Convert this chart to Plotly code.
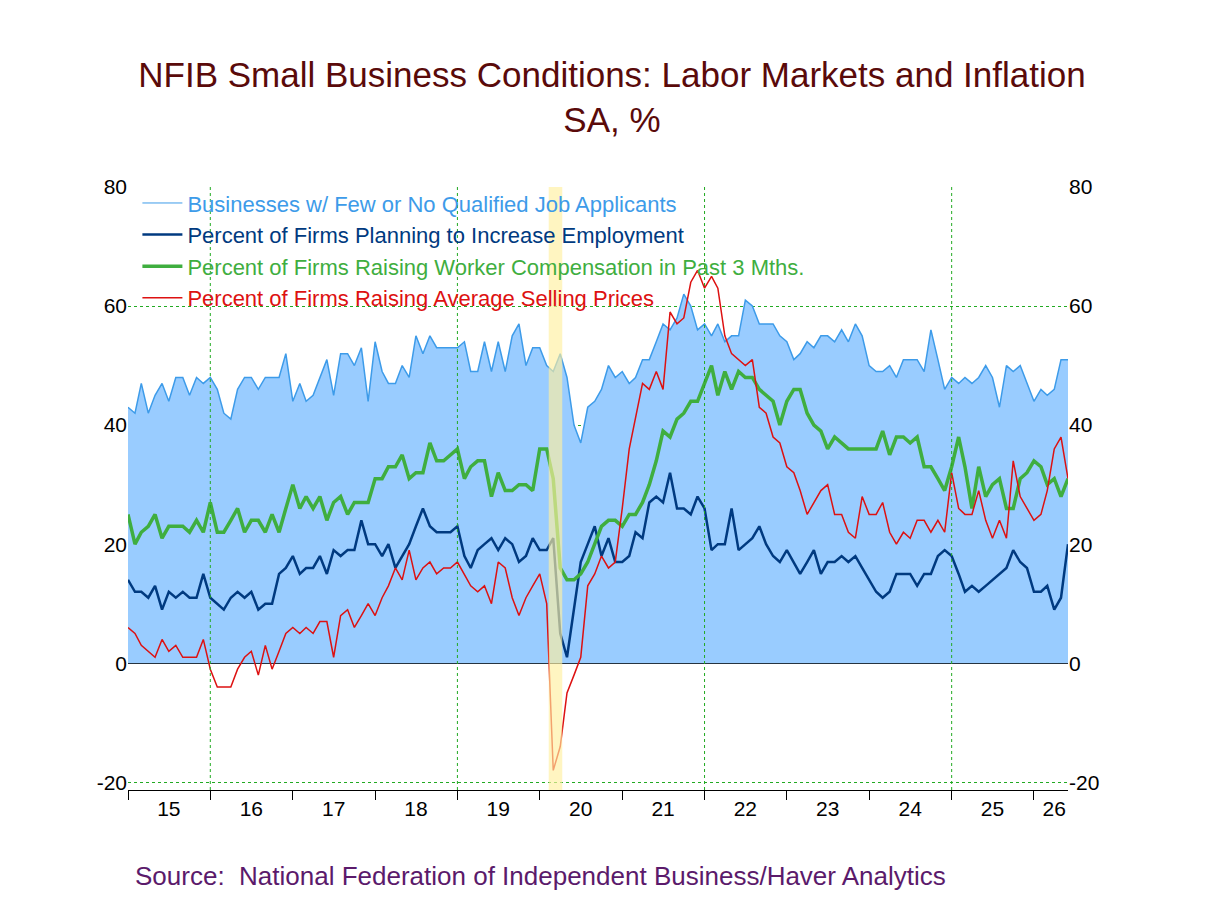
import pandas as pd
import plotly.graph_objects as go

# monthly values, Jan 2015 - Jun 2026
applicants = [43, 42, 47, 42, 45, 47, 44, 48, 48, 45, 48, 47,
              48, 46, 42, 41, 46, 48, 48, 46, 48, 48, 48, 52,
              44, 47, 44, 45, 48, 51, 45, 52, 52, 50, 53, 44,
              54, 49, 47, 47, 50, 48, 55, 52, 55, 53, 53, 53,
              53, 54, 49, 49, 54, 49, 54, 49, 55, 57, 50, 53,
              53, 50, 49, 52, 48, 40, 37, 43, 44, 46, 50, 48,
              49, 47, 48, 51, 51, 54, 57, 56, 58, 62, 60, 56,
              57, 55, 57, 54, 55, 55, 61, 60, 57, 57, 57, 55,
              54, 51, 52, 54, 53, 55, 55, 54, 56, 54, 57, 55,
              50, 49, 49, 50, 48, 51, 51, 51, 49, 56, 51, 46,
              48, 47, 48, 47, 48, 50, 48, 43, 50, 49, 50, 47,
              44, 46, 45, 46, 51, 51]
employment = [14, 12, 12, 11, 13, 9, 12, 11, 12, 11, 11, 15,
              11, 10, 9, 11, 12, 11, 12, 9, 10, 10, 15, 16,
              18, 15, 16, 16, 18, 15, 19, 18, 19, 19, 24, 20,
              20, 18, 20, 16, 18, 20, 23, 26, 23, 22, 22, 22,
              23, 18, 16, 19, 20, 21, 19, 21, 20, 17, 18, 21,
              19, 19, 21, 5, 1, 9, 17, 20, 23, 18, 21, 17,
              17, 18, 22, 21, 27, 28, 27, 32, 26, 26, 25, 28,
              26, 19, 20, 20, 26, 19, 20, 21, 23, 20, 18, 17,
              19, 17, 15, 17, 19, 15, 17, 17, 18, 17, 18, 16,
              14, 12, 11, 12, 15, 15, 15, 13, 15, 15, 18, 19,
              18, 15, 12, 13, 12, 13, 14, 15, 16, 19, 17, 16,
              12, 12, 13, 9, 11, 20]
compensation = [25, 20, 22, 23, 25, 21, 23, 23, 23, 22, 24, 22,
                27, 22, 22, 24, 26, 22, 24, 24, 22, 25, 22, 26,
                30, 26, 28, 26, 28, 24, 27, 28, 25, 27, 27, 27,
                31, 31, 33, 33, 35, 31, 32, 32, 37, 34, 34, 35,
                36, 31, 33, 34, 34, 28, 32, 29, 29, 30, 30, 29,
                36, 36, 31, 16, 14, 14, 15, 17, 20, 23, 24, 24,
                23, 25, 25, 27, 30, 34, 39, 38, 41, 42, 44, 44,
                47, 50, 45, 49, 46, 49, 48, 48, 46, 45, 44, 40,
                44, 46, 46, 42, 40, 39, 36, 38, 37, 36, 36, 36,
                36, 36, 39, 35, 38, 38, 37, 38, 33, 33, 31, 29,
                33, 38, 33, 26, 33, 28, 30, 31, 26, 26, 31, 32,
                34, 33, 30, 31, 28, 31]
prices = [6, 5, 3, 2, 1, 4, 2, 3, 1, 1, 1, 4,
          -1, -4, -4, -4, -1, 1, 2, -2, 3, -1, 2, 5,
          6, 5, 6, 5, 7, 7, 1, 8, 9, 6, 8, 10,
          8, 11, 13, 16, 14, 19, 14, 16, 17, 15, 16, 16,
          17, 15, 13, 12, 13, 10, 17, 16, 11, 8, 11, 13,
          15, 10, -18, -14, -5, -2, 1, 13, 15, 18, 16, 17,
          26, 36, 41, 47, 46, 49, 46, 59, 57, 58, 64, 66,
          63, 65, 63, 55, 52, 51, 50, 51, 43, 42, 38, 37,
          33, 32, 29, 25, 27, 29, 30, 25, 25, 22, 21, 28,
          25, 25, 27, 22, 20, 22, 21, 24, 24, 22, 24, 22,
          32, 26, 25, 25, 29, 24, 21, 24, 21, 34, 28, 26,
          24, 25, 29, 36, 38, 31]

dates = pd.date_range("2015-01-01", periods=len(applicants), freq="MS")
year_labels = [str(y)[2:] for y in range(2015, 2027)]
label_pos = [pd.Timestamp(f"{y}-07-01") for y in range(2015, 2026)] + [pd.Timestamp("2026-04-01")]
year_starts = [pd.Timestamp(f"{y}-01-01") for y in range(2015, 2027)]
grid_years = [pd.Timestamp(f"{y}-01-01") for y in (2016, 2019, 2022, 2025)]


def label(text, color):
    return f"<span style='color:{color}'>{text}</span>"


fig = go.Figure()
fig.add_trace(go.Scatter(x=dates, y=applicants, fill="tozeroy", fillcolor="#99ccff",
                         line=dict(color="#3d9be9", width=1.5), showlegend=False))
fig.add_trace(go.Scatter(x=[None], y=[None], mode="lines", line=dict(color="#3d9be9", width=1),
                         name=label("Businesses w/ Few or No Qualified Job Applicants", "#3d9be9")))
fig.add_trace(go.Scatter(x=dates, y=employment, line=dict(color="#003a80", width=2.5),
                         name=label("Percent of Firms Planning to Increase Employment", "#003a80")))
fig.add_trace(go.Scatter(x=dates, y=compensation, line=dict(color="#3fae3f", width=3.5),
                         name=label("Percent of Firms Raising Worker Compensation in Past 3 Mths.", "#3fae3f")))
fig.add_trace(go.Scatter(x=dates, y=prices, line=dict(color="#dd1111", width=1.5),
                         name=label("Percent of Firms Raising Average Selling Prices", "#dd1111")))
# invisible trace for right axis
fig.add_trace(go.Scatter(x=dates[:1], y=[0], yaxis="y2", showlegend=False,
                         mode="markers", marker=dict(opacity=0), hoverinfo="skip"))

fig.add_vrect(x0="2020-02-10", x1="2020-04-10", fillcolor="#fff0a0", opacity=0.65,
              line_width=0, layer="above")
for d in grid_years:
    fig.add_shape(type="line", x0=d, x1=d, y0=0, y1=1, yref="paper",
                  line=dict(color="#22aa22", width=1, dash="dot"), layer="above")

yax = dict(range=[-21.3, 80], tickvals=[-20, 0, 20, 40, 60, 80],
           ticktext=["-20", "0", "20", "40", "60", "80"], showgrid=True,
           gridcolor="#22aa22", griddash="dot", gridwidth=1, zeroline=True,
           zerolinecolor="black", zerolinewidth=1, showline=False, ticks="",
           automargin=False, tickfont=dict(size=21, color="black", family="Arial"))
fig.update_layout(
    width=1208, height=906,
    paper_bgcolor="white", plot_bgcolor="white",
    margin=dict(l=120, r=148, t=179, b=124),
    font=dict(family="Arial", color="black"),
    title=dict(text="NFIB Small Business Conditions: Labor Markets and Inflation<br>SA, %",
               x=0.5, xanchor="center", y=0.913, yanchor="top",
               font=dict(size=35, color="#5a0a0a")),
    xaxis=dict(range=[dates[0], dates[-1]], automargin=False,
               tickvals=label_pos, ticktext=year_labels, ticks="", showgrid=False,
               showline=True, linecolor="black", tickfont=dict(size=21),
               minor=dict(tickvals=year_starts, ticks="outside", ticklen=9,
                          tickcolor="black", showgrid=False)),
    yaxis=yax,
    yaxis2=dict(yax, overlaying="y", side="right", showgrid=False, zeroline=False),
    legend=dict(x=0.01, y=1.008, xanchor="left", yanchor="top", bgcolor="rgba(0,0,0,0)",
                font=dict(size=22), tracegroupgap=0, itemwidth=40),
    showlegend=True,
    annotations=[dict(text="Source:  National Federation of Independent Business/Haver Analytics",
                      xref="paper", yref="paper", x=0.005, y=-0.17, xanchor="left",
                      showarrow=False, font=dict(size=26, color="#5b1a6b"))],
)

fig.write_html("out.html")
